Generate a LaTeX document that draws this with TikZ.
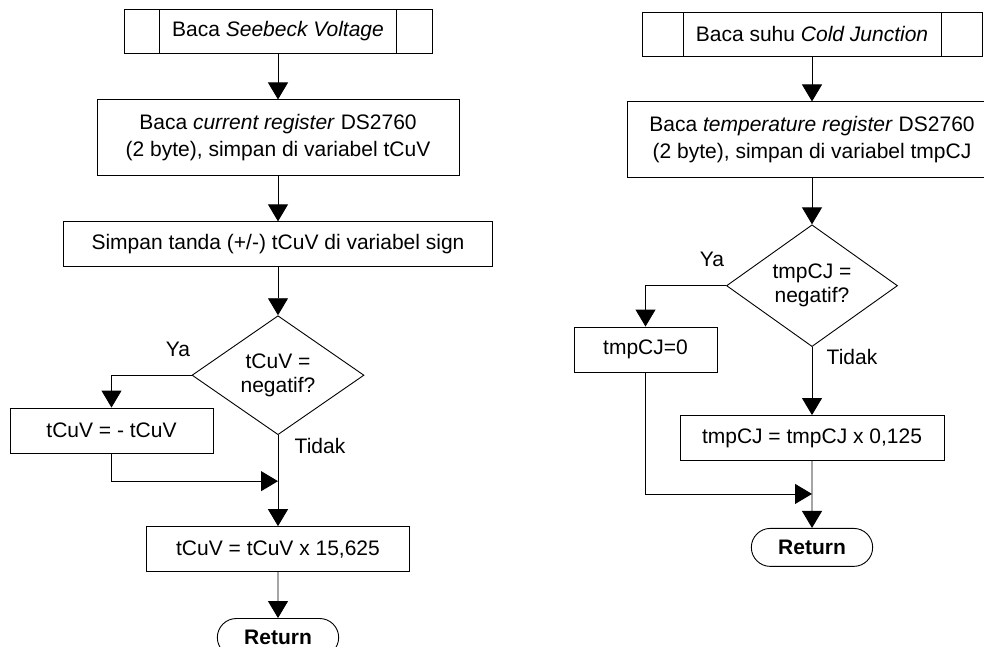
\documentclass[tikz,border=0pt]{standalone}
\usepackage{fontspec}
\setmainfont{Liberation Sans}
\usetikzlibrary{positioning,arrows.meta,calc,shapes.geometric,shapes.misc}

\begin{document}
\begin{tikzpicture}[
    x=1pt, y=-1pt,
    node distance=46pt,
    every node/.style={font=\fontsize{21}{27}\selectfont},
    proc/.style={rectangle, draw, line width=0.9pt, minimum height=45pt, align=center, inner sep=0pt},
    subr/.style={rectangle, draw, line width=0.9pt, minimum height=44pt, inner sep=0pt},
    decision/.style={diamond, draw, line width=0.9pt, minimum width=172pt, minimum height=119pt, inner sep=0pt, align=center, font=\fontsize{21}{24}\selectfont},
    term/.style={rounded rectangle, draw, line width=0.9pt, minimum width=128pt, minimum height=38pt, font=\fontsize{21}{27}\selectfont\bfseries},
    lbl/.style={font=\fontsize{21}{27}\selectfont},
    arrow/.style={-{Triangle[length=17pt,width=20pt]}, line width=0.9pt}
]
\useasboundingbox (0,0) rectangle (984,646);

% Left chart: Seebeck voltage
\node[subr, minimum width=308pt] (svOut) at (278,31) {};
\node[subr, minimum width=237pt] (sv) at (svOut) {Baca \textit{Seebeck Voltage}};
\node[proc, minimum width=362pt, minimum height=76pt, below=46pt of sv] (rdCur) {Baca \textit{current register} DS2760\\(2 byte), simpan di variabel tCuV};
\node[proc, minimum width=429pt, below=45pt of rdCur] (sign) {Simpan tanda (+/-) tCuV di variabel sign};
\node[decision, below=48pt of sign] (negV) {tCuV =\\negatif?};
\node[proc, minimum width=203pt] (invV) at (111.5,430.5) {tCuV = - tCuV};
\node[proc, minimum width=263pt, below=91pt of negV] (mulV) {tCuV = tCuV x 15,625};
\node[term, below=46pt of mulV] (retV) {Return};
\coordinate (joinV) at ($(negV.south)+(0,46)$);

\draw[arrow] (sv) -- (rdCur);
\draw[arrow] (rdCur) -- (sign);
\draw[arrow] (sign) -- (negV);
\draw[arrow] (negV.west) -| (invV.north);
\draw[arrow] (negV.south) -- (mulV.north);
\draw[arrow] (invV.south) |- (joinV);
\draw[arrow] (mulV) -- (retV);

\node[lbl] (yaV) at (178,349) {Ya};
\node[lbl] (tidakV) at (320,446) {Tidak};

% Right chart: cold junction
\node[subr, minimum width=340pt] (cjOut) at (812,34) {};
\node[subr, minimum width=258pt] (cj) at (cjOut) {Baca suhu \textit{Cold Junction}};
\node[proc, minimum width=370pt, minimum height=76pt, below=45pt of cj] (rdTmp) {Baca \textit{temperature register} DS2760\\(2 byte), simpan di variabel tmpCJ};
\node[decision, minimum width=171pt, below=46pt of rdTmp] (negCJ) {tmpCJ =\\negatif?};
\node[proc, minimum width=143pt] (zeroCJ) at (645.5,349.5) {tmpCJ=0};
\node[proc, minimum width=264pt, below=68pt of negCJ] (mulCJ) {tmpCJ = tmpCJ x 0,125};
\node[term, below=67pt of mulCJ] (retCJ) {Return};
\coordinate (joinCJ) at ($(mulCJ.south)+(0,33)$);

\draw[arrow] (cj) -- (rdTmp);
\draw[arrow] (rdTmp) -- (negCJ);
\draw[arrow] (negCJ.west) -| (zeroCJ.north);
\draw[arrow] (negCJ.south) -- (mulCJ.north);
\draw[arrow] (zeroCJ.south) |- (joinCJ);
\draw[arrow] (mulCJ) -- (retCJ);

\node[lbl] (yaCJ) at (712,259) {Ya};
\node[lbl] (tidakCJ) at (852,357) {Tidak};

\end{tikzpicture}
\end{document}
